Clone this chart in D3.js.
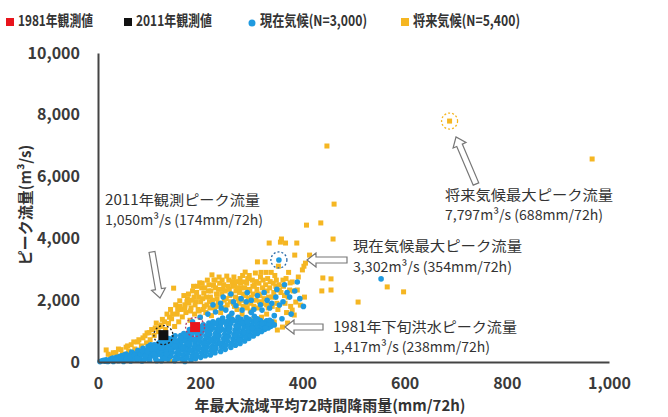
<!DOCTYPE html>
<html>
<head>
<meta charset="utf-8">
<style>
  body { margin: 0; background: #fff; }
  .tick text { font-family: "Liberation Sans Narrow", "Noto Sans CJK JP", sans-serif; font-size: 16px; font-weight: bold; fill: #3a3a3a; }
  .lbl { font-family: "Liberation Sans Narrow", "Noto Sans CJK JP", sans-serif; font-size: 15px; font-weight: bold; fill: #333; }
  .note { font-family: "Noto Sans CJK JP", sans-serif; font-size: 14px; fill: #333; }
</style>
<script src="https://cdn.jsdelivr.net/npm/d3@7"></script>
</head>
<body>
<script>
// axis ticks
const xTicks = [0, 200, 400, 600, 800, 1000];
const yTicks = [0, 2000, 4000, 6000, 8000, 10000];

// legend labels
const seriesNames = ["1981年観測値", "2011年観測値", "現在気候(N=3,000)", "将来気候(N=5,400)"];

// observed peaks [rain mm/72h, flow m3/s] as placed in the picture
const obs1981 = [190, 1130];
const obs2011 = [128, 870];

// maxima of the ensembles
const presentMax = [354, 3302];
const futureMax = [688, 7797];

// current climate ensemble (dense band + scatter)
const presentClimate = [
  [4,12],[8,40],[14,25],[16,70],[22,45],[26,105],[30,20],[33,80],[36,150],[40,40],[44,115],[46,200],
  [50,20],[53,150],[55,260],[58,80],[62,210],[64,30],[66,320],[70,140],[73,260],[76,60],[78,380],
  [82,190],[84,320],[86,30],[88,440],[92,120],[94,250],[96,380],[98,500],[101,60],[104,190],[106,310],
  [108,430],[110,560],[113,100],[116,240],[117,380],[119,500],[121,640],[124,40],[126,170],[128,300],
  [130,440],[132,580],[134,700],[137,90],[139,230],[141,370],[143,510],[145,650],[147,790],[150,40],
  [152,160],[154,300],[156,440],[158,580],[160,720],[162,860],[165,90],[167,230],[169,370],[171,510],
  [173,650],[175,790],[177,930],[179,1050],[182,60],[184,190],[186,330],[188,470],[190,610],[192,750],
  [194,890],[196,1020],[198,1150],[201,150],[203,290],[205,430],[207,570],[209,710],[211,850],[213,990],
  [215,1130],[217,1260],[220,230],[222,370],[224,510],[226,650],[228,790],[230,930],[232,1070],[234,1210],
  [236,1350],[240,340],[242,480],[244,620],[246,760],[248,900],[250,1040],[252,1180],[254,1320],[256,1460],
  [260,470],[262,610],[264,750],[266,890],[268,1030],[270,1170],[272,1310],[274,1450],[278,600],[280,740],
  [282,880],[284,1020],[286,1160],[288,1300],[290,1440],[295,760],[297,900],[299,1040],[301,1180],
  [303,1320],[306,1480],[312,920],[314,1060],[316,1200],[318,1340],[326,1050],[328,1190],[330,1330],
  [338,1150],[340,1300],
  [11,55],[19,15],[24,80],[29,130],[38,100],[42,175],[48,60],[52,230],[57,190],[60,110],[68,90],[69,280],
  [75,210],[80,330],[81,120],[89,380],[90,240],[91,80],[99,440],[100,160],[102,300],[103,560],[111,370],
  [112,200],[114,490],[115,40],[118,600],[122,250],[123,380],[125,520],[127,660],[131,110],[133,360],
  [135,480],[136,620],[138,760],[142,180],[144,300],[146,440],[148,580],[149,720],[151,850],[157,120],
  [159,250],[161,380],[163,520],[164,660],[166,790],[168,920],[170,20],[174,140],[176,280],[178,420],
  [180,560],[181,700],[183,840],[185,970],[187,1090],[191,110],[193,240],[195,380],[197,520],[199,660],
  [200,800],[202,940],[204,1080],[206,1200],[210,200],[212,340],[214,480],[216,620],[218,760],[219,900],
  [221,1040],[223,1180],[225,1300],[229,300],[231,440],[233,580],[235,720],[237,860],[238,1000],[240,1140],
  [242,1280],[244,1420],[249,410],[251,550],[253,690],[255,830],[257,970],[258,1110],[260,1250],[262,1390],
  [269,540],[271,680],[273,820],[275,960],[276,1100],[278,1240],[280,1380],[287,680],[289,820],[291,960],
  [293,1100],[294,1240],[296,1380],[304,840],[306,980],[308,1120],[310,1260],[312,1400],[320,990],
  [322,1130],[324,1270],[333,1100],[335,1240],[345,1200],
  [20,30],[34,60],[45,150],[56,100],[63,170],[71,220],[77,120],[83,260],[87,350],[93,190],[97,320],
  [105,420],[109,250],[112,480],[120,330],[124,450],[129,560],[134,250],[140,600],[143,420],[150,520],
  [153,680],[158,350],[162,770],[166,450],[170,700],[172,850],[176,600],[181,380],[183,900],[188,700],
  [192,980],[197,450],[199,850],[203,1050],[208,620],[211,1150],[216,920],[220,700],[224,1100],[227,450],
  [230,1250],[235,850],[239,600],[243,1050],[247,1300],[252,800],[256,1100],[261,600],[265,1350],
  [268,850],[273,1150],[277,700],[283,1250],[286,950],[292,1300],[298,850],[302,1100],[309,1350],
  [315,1000],[321,1250],[328,1100],[336,1350],
  [200,1450],[215,1550],[230,1620],[241,1750],[250,1680],[262,1580],[270,1820],[282,1680],[290,1950],
  [305,1700],[318,1850],[321,1680],[331,2000],[336,1750],[348,2100],[355,1845],[362,1950],[370,2250],
  [378,1550],[390,2590],[395,2050],[402,1800],[554,2690],[265,1950],[245,2100],[225,1850],[185,1300],
  [300,1600],[345,1500],[360,1400],[312,2150],[280,2050],[300,2000],[325,2250],[340,1900],[350,2350],
  [365,2500],[385,2300],[375,2100],[292,2250],[260,2200],[240,1900],[354,3302]
];

// future climate ensemble
const futureClimate = [
  [16,390],[25,200],[35,300],[40,420],[48,250],[55,480],[60,350],[65,560],[72,420],[78,650],[85,520],
  [88,780],[95,620],[96,940],[102,720],[105,1050],[110,860],[114,1260],[118,980],[122,1150],[126,1380],
  [128,820],[132,1050],[135,1550],[138,1250],[142,1700],[144,1400],[148,2390],[150,1150],[152,1850],
  [155,1550],[158,1300],[160,1980],[163,1700],[165,1460],[168,2150],[170,1850],[172,1600],[175,2050],
  [178,1910],[180,1350],[182,1750],[185,2300],[188,2100],[189,1550],[192,1950],[195,2450],[196,1700],
  [199,2560],[200,1450],[203,2400],[205,2050],[207,2230],[208,1800],[211,1600],[214,2650],[216,2300],
  [218,1950],[220,2100],[222,1500],[223,2820],[226,2480],[228,1750],[229,2650],[232,2200],[235,1900],
  [238,2550],[240,1600],[243,2650],[245,2350],[247,2000],[250,1750],[252,2780],[255,2450],[258,2150],
  [260,1500],[263,2600],[265,1900],[268,2500],[270,2300],[272,1700],[275,2050],[278,2700],[280,2400],
  [282,1550],[285,2200],[286,2590],[288,2910],[290,1900],[293,2700],[295,2350],[298,1650],[300,2100],
  [303,2450],[305,1800],[308,2880],[310,2600],[312,3240],[314,2200],[316,1950],[318,2750],[320,1450],
  [322,2400],[325,2050],[327,3240],[329,2900],[331,2300],[333,1750],[335,3850],[337,2600],[340,2100],
  [342,1300],[345,1290],[346,2800],[348,2450],[350,1900],[351,1035],[353,3100],[355,2330],[357,3880],
  [359,3980],[361,1130],[362,2650],[365,2150],[367,3850],[369,1600],[371,1260],[373,2900],[375,2330],
  [376,2560],[380,1680],[380,2590],[384,1520],[385,3460],[387,1940],[389,3850],[390,2330],[392,2750],
  [396,1840],[400,2980],[403,3100],[404,2100],[406,3200],[408,4430],[414,3460],[436,4500],[438,2300],
  [440,2720],[448,6990],[456,2690],[456,2330],[460,3980],[462,5110],[509,1940],[566,2430],[598,2270],
  [688,7797],[967,6570],
  [140,60],[165,90],[190,120],[215,1150],[235,1250],[255,1300],[275,1350],[290,1250],[305,1400],
  [300,1100],[320,1200],[330,1550],[310,1000],
  [170,1750],[174,1950],[177,2200],[181,1650],[184,2000],[187,2450],[190,1850],[193,2250],[197,2100],
  [198,1650],[201,1950],[204,2550],[206,1700],[209,2400],[212,2100],[213,1850],[217,2500],[219,1750],
  [221,2300],[224,2000],[227,2650],[230,2400],[231,1800],[233,2050],[236,2350],[237,2750],[239,1850],
  [242,2200],[244,1750],[246,2500],[249,2300],[251,2050],[253,1850],[256,2650],[257,2350],[259,1950],
  [261,2200],[264,2450],[266,2750],[267,1800],[269,2100],[271,2600],[273,2400],[276,1900],[277,2250],
  [279,2550],[281,2000],[283,2800],[284,1800],[287,2400],[289,2150],[291,2550],[292,1750],[294,2050],
  [296,2800],[297,2300],[299,1900],[302,2650],[304,2200],[306,2500],[309,2000],[311,2350],[313,1750],
  [315,2550],[317,2150],[319,2900],[321,1900],[323,2650],[326,2250],[328,2500],[330,1850],[332,2700],
  [334,2100],[336,2400],[339,2900],[341,1800],[343,2550],[344,2250],[347,2100],[349,2650],[352,1700],
  [354,2500],[358,2250],[363,2450],[366,1900],[368,2700],[372,2100],[377,1800],[382,2300],[160,1800],
  [156,1700],[146,1550],[140,1450],[130,1300],[124,1200],[112,1100],[100,950],[92,850],[80,720],
  [70,650],[58,520],[45,400],[30,300],[20,250]
];

const w = 668;
const h = 417;

const x = d3.scaleLinear().domain([0, 1000]).range([98, 609]);
const y = d3.scaleLinear().domain([0, 10000]).range([362, 53]);

const blue = "#1f9ae0";
const orange = "#f5b622";

const svg = d3.select("body").append("svg")
  .attr("width", w)
  .attr("height", h);

// points
svg.append("g").selectAll("rect")
  .data(futureClimate)
  .enter().append("rect")
  .attr("x", d => x(d[0]) - 2.5)
  .attr("y", d => y(d[1]) - 2.5)
  .attr("width", 5)
  .attr("height", 5)
  .attr("fill", orange);

svg.append("g").selectAll("circle")
  .data(presentClimate)
  .enter().append("circle")
  .attr("cx", d => x(d[0]))
  .attr("cy", d => y(d[1]))
  .attr("r", 2.8)
  .attr("fill", blue);

// observed markers
svg.append("circle").attr("cx", x(obs2011[0])).attr("cy", y(obs2011[1])).attr("r", 9.5)
  .attr("fill", "none").attr("stroke", "#222").attr("stroke-width", 1.3).attr("stroke-dasharray", "2,2");
svg.append("rect").attr("x", x(obs2011[0]) - 5).attr("y", y(obs2011[1]) - 5)
  .attr("width", 10).attr("height", 10).attr("fill", "#111");

svg.append("circle").attr("cx", x(obs1981[0])).attr("cy", y(obs1981[1])).attr("r", 9.5)
  .attr("fill", "none").attr("stroke", "#b04070").attr("stroke-width", 1.3).attr("stroke-dasharray", "2,2");
svg.append("rect").attr("x", x(obs1981[0]) - 5).attr("y", y(obs1981[1]) - 5)
  .attr("width", 10).attr("height", 10).attr("fill", "#e8141c");

// maxima circles
svg.append("circle").attr("cx", x(presentMax[0])).attr("cy", y(presentMax[1])).attr("r", 8)
  .attr("fill", "none").attr("stroke", "#2a6aa8").attr("stroke-width", 1.3).attr("stroke-dasharray", "2,2");
svg.append("circle").attr("cx", x(futureMax[0])).attr("cy", y(futureMax[1])).attr("r", 8)
  .attr("fill", "none").attr("stroke", orange).attr("stroke-width", 1.3).attr("stroke-dasharray", "2,2");

// axes
const xAxis = d3.axisBottom(x).tickValues(xTicks).tickSize(0).tickPadding(16).tickFormat(d3.format(","));
const yAxis = d3.axisLeft(y).tickValues(yTicks).tickSize(0).tickPadding(18).tickFormat(d3.format(","));

svg.append("g")
  .attr("transform", "translate(0,362)")
  .call(xAxis)
  .call(g => g.select(".domain").attr("stroke", "#444").attr("stroke-width", 2));

svg.append("g")
  .attr("transform", "translate(98,0)")
  .call(yAxis)
  .call(g => g.select(".domain").attr("stroke", "#444").attr("stroke-width", 2));

svg.append("text").attr("class", "lbl")
  .attr("x", 330).attr("y", 411).attr("text-anchor", "middle")
  .text("年最大流域平均72時間降雨量(mm/72h)");

svg.append("text").attr("class", "lbl")
  .attr("transform", "translate(31,205) rotate(-90)").attr("text-anchor", "middle")
  .text("ピーク流量(m³/s)");

// hollow arrows: tail -> tip
function arrow(x1, y1, x2, y2) {
  const len = Math.hypot(x2 - x1, y2 - y1);
  const ang = Math.atan2(y2 - y1, x2 - x1) * 180 / Math.PI;
  const hl = 9, sw = 3, hw = 7;
  const pts = [[0, -sw], [len - hl, -sw], [len - hl, -hw], [len, 0], [len - hl, hw], [len - hl, sw], [0, sw]];
  svg.append("path")
    .attr("d", "M" + pts.join("L") + "Z")
    .attr("transform", `translate(${x1},${y1}) rotate(${ang})`)
    .attr("fill", "#fff").attr("stroke", "#777").attr("stroke-width", 1.2);
}
arrow(152, 252, 160, 298);
arrow(347, 260, 307, 260);
arrow(323, 327, 285, 327);
arrow(476, 184, 456, 137);

// annotations
const notes = [
  [105, 205, 155, "2011年観測ピーク流量"],
  [105, 225, 158, "1,050m³/s (174mm/72h)"],
  [353, 251, 169, "現在気候最大ピーク流量"],
  [353, 272, 159, "3,302m³/s (354mm/72h)"],
  [333, 332, 184, "1981年下旬洪水ピーク流量"],
  [333, 352, 157, "1,417m³/s (238mm/72h)"],
  [445, 200, 168, "将来気候最大ピーク流量"],
  [445, 220, 158, "7,797m³/s (688mm/72h)"]
];
svg.append("g").selectAll("text")
  .data(notes)
  .enter().append("text")
  .attr("class", "note")
  .attr("x", d => d[0]).attr("y", d => d[1])
  .attr("textLength", d => d[2]).attr("lengthAdjust", "spacingAndGlyphs")
  .text(d => d[3]);

// legend
const legendX = [10, 128, 252, 405];
const legendW = [75, 76, 107, 107];
const legendColor = ["#e8141c", "#111", blue, orange];
const lg = svg.append("g");
seriesNames.forEach((name, i) => {
  if (i === 2) {
    lg.append("circle").attr("cx", legendX[i]).attr("cy", 23).attr("r", 3.5).attr("fill", legendColor[i]);
  } else {
    lg.append("rect").attr("x", legendX[i] - 4).attr("y", 18).attr("width", 8).attr("height", 8).attr("fill", legendColor[i]);
  }
  lg.append("text").attr("class", "lbl")
    .attr("x", legendX[i] + 8).attr("y", 26)
    .attr("textLength", legendW[i]).attr("lengthAdjust", "spacingAndGlyphs")
    .text(name);
});
</script>
</body>
</html>
